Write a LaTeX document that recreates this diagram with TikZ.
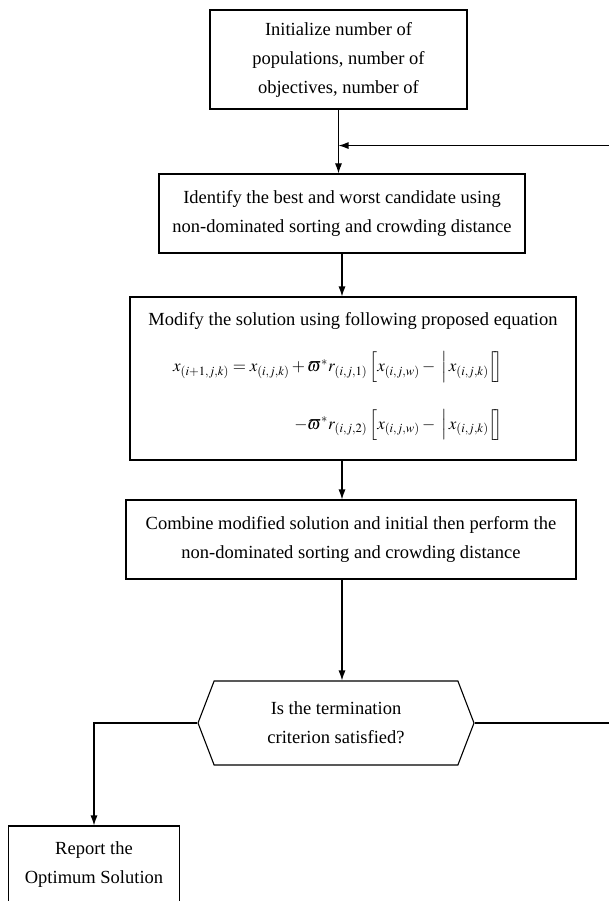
\documentclass[tikz,border=0pt]{standalone}
\usepackage{amsmath}
\usepackage{mathptmx}
\usepackage{fontspec}
\setmainfont{Liberation Serif}
\usetikzlibrary{shapes.symbols, arrows.meta}

\begin{document}
\begin{tikzpicture}[x=1pt, y=-1pt, >={Latex[length=10pt,width=7pt]}, line width=1.1pt,
  every node/.style={font=\fontsize{18.5}{29}\selectfont, align=center, inner sep=0pt},
  flowbox/.style={rectangle, draw},
  decision/.style={signal, draw, signal to=west and east, signal pointer angle=138}]
\useasboundingbox (0,0) rectangle (608,901);

\node[flowbox, minimum width=257, minimum height=99] (init) at (338.5,59.5) {Initialize number of\\ populations, number of\\ objectives, number of};
\node[flowbox, minimum width=366, minimum height=79] (ident) at (342,213.5) {Identify the best and worst candidate using\\ non-dominated sorting and crowding distance};
\node[flowbox, minimum width=446, minimum height=163] (modify) at (353,378.5) {Modify the solution using following proposed equation\\[21pt]
  {\fontsize{17}{20}\selectfont $\begin{array}{@{}r@{}}
  x_{(i+1,j,k)} = x_{(i,j,k)} + \varpi^{*} r_{(i,j,1)}\, \Big[ x_{(i,j,w)} -\; \Big|\, x_{(i,j,k)} \Big[\!\Big] \\[32pt]
  -\varpi^{*} r_{(i,j,2)}\, \Big[ x_{(i,j,w)} -\; \Big|\, x_{(i,j,k)} \Big[\!\Big]
  \end{array}\hspace{30pt}$}\\[3pt]\mbox{}};
\node[flowbox, minimum width=450, minimum height=79] (combine) at (351,539.5) {Combine modified solution and initial then perform the\\ non-dominated sorting and crowding distance};
\node[decision, minimum width=276, minimum height=84] (test) at (336,723) {Is the termination\\ criterion satisfied?};
\node[flowbox, minimum width=171, minimum height=78] (report) at (94,865) {Report the\\ Optimum Solution};

\coordinate (join) at ([yshift=-36pt]init.south);

\draw[->] (init.south) -- (init.south |- ident.north);
\draw[->] (ident.south) -- (ident.south |- modify.north);
\draw[->] (modify.south -| ident.south) -- (ident.south |- combine.north);
\draw[->] (combine.south -| ident.south) -- (ident.south |- test.north);
\draw[->] (test.west) -| (report.north);
\draw[->] (test.east) -- ++(160,0) |- (join);

\end{tikzpicture}
\end{document}
